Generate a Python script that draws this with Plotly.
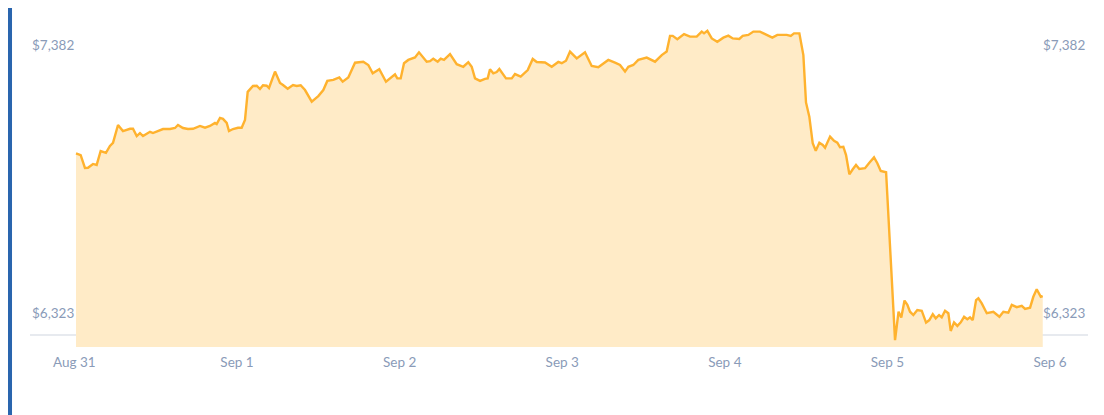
import pandas as pd
import plotly.graph_objects as go

# hours after 2018-08-31 00:00
hours = [0.24, 0.93, 1.56, 2.01, 2.75, 3.29, 3.88, 4.66, 5.25, 5.70, 6.44, 7.17, 8.21, 8.65, 9.20, 9.68,
         10.13, 10.67, 11.16, 11.60, 12.63, 13.08, 14.11, 14.85, 15.29, 16.03, 16.77, 17.51, 18.54, 19.28,
         20.01, 20.75, 21.00, 21.49, 21.93, 22.48, 22.82, 23.41, 24.15, 24.69, 25.18, 25.58, 26.36, 26.91,
         27.39, 27.84, 28.38, 28.72, 29.61, 30.35, 30.79, 31.48, 32.27, 32.81, 33.40, 34.04,
         35.03, 36.00, 36.74, 37.33, 38.21, 39.10, 39.60, 40.43, 41.42, 42.64, 43.38, 44.03, 45.00, 45.99,
         47.32, 47.66, 48.16, 48.65, 49.28, 50.27, 50.86, 51.41, 52.00, 52.49, 52.97, 53.62, 54.07, 54.55,
         55.44, 56.43, 57.40, 58.14, 58.64, 59.13, 59.87, 60.60, 61.00, 61.34, 61.83, 62.33, 62.72, 63.70,
         64.55, 65.03, 65.87, 66.91, 67.65, 68.24, 69.46, 70.45, 71.42,
         71.93, 72.56, 73.15, 74.14, 75.36, 76.35, 77.33, 78.80, 79.79, 80.53, 81.27, 81.76, 82.49, 83.23,
         84.47, 85.70, 86.69, 87.42, 87.91, 88.31, 88.99, 89.98, 90.86, 91.85, 92.59, 92.93, 93.42, 94.07,
         94.89, 95.78, 96.52, 97.17, 98.14, 98.64, 99.47, 100.21, 101.19, 102.18, 103.01, 103.75, 105.14,
         105.73, 106.21, 107.00, 107.59, 107.98, 108.47, 108.97, 109.42, 109.95, 110.45, 110.79, 111.53,
         112.12, 112.60, 113.00, 113.49, 113.89, 114.38, 114.88, 115.36, 115.85, 116.69, 117.33, 118.02,
         118.51, 119.01, 119.80, 120.38, 121.12, 121.64, 122.04, 122.52, 122.94, 123.33, 123.82, 124.41,
         125.06, 125.70, 126.18, 126.69, 127.13, 127.62, 128.01, 128.50, 128.99, 129.34, 129.83, 130.32,
         130.82, 131.31, 131.79, 132.19, 132.59, 133.08, 133.42, 133.92, 134.66, 135.63, 136.52, 137.11,
         137.84, 138.35, 139.08, 139.82, 140.31, 141.05, 141.53, 142.03, 142.63, 142.92]

prices = [6954, 6947, 6896, 6897, 6912, 6908, 6963, 6956, 6983, 6995, 7066, 7042, 7051, 7051, 7022, 7034,
          7022, 7030, 7039, 7034, 7043, 7050, 7050, 7054, 7066, 7054, 7050, 7051, 7062, 7055,
          7062, 7074, 7070, 7094, 7090, 7074, 7042, 7050, 7055, 7055, 7086, 7197, 7220, 7221,
          7208, 7223, 7221, 7212, 7277, 7232, 7224, 7209, 7224, 7220, 7223, 7204,
          7158, 7180, 7204, 7240, 7244, 7254, 7237, 7254, 7312, 7316, 7303, 7270, 7286, 7237,
          7266, 7250, 7250, 7310, 7323, 7333, 7353, 7333, 7316, 7318, 7328, 7316, 7328, 7323,
          7346, 7306, 7296, 7314, 7296, 7250, 7240, 7248, 7250, 7286, 7270, 7275, 7287, 7250,
          7250, 7267, 7257, 7283, 7327, 7315, 7313, 7296, 7315,
          7310, 7320, 7356, 7329, 7353, 7299, 7294, 7323, 7312, 7303, 7277, 7296, 7303, 7323,
          7332, 7316, 7342, 7356, 7418, 7418, 7405, 7425, 7415, 7415, 7435, 7428, 7438, 7408,
          7395, 7411, 7419, 7408, 7406, 7418, 7422, 7435, 7435, 7422, 7411, 7422, 7422,
          7418, 7428, 7428, 7342, 7155, 7099, 6994, 6964, 6996, 6987, 6976, 7020,
          7003, 6996, 6978, 6980, 6947, 6871, 6891, 6908, 6892, 6895, 6917, 6938,
          6915, 6884, 6879, 6585, 6216, 6328, 6305, 6372, 6355, 6328, 6315, 6335,
          6332, 6285, 6295, 6318, 6302, 6315, 6306, 6332, 6322, 6252, 6286, 6272,
          6286, 6308, 6298, 6306, 6295, 6374, 6381, 6361, 6322, 6328, 6308, 6328,
          6324, 6355, 6346, 6351, 6339, 6344, 6387, 6417, 6387, 6390]

tick_dates = ["2018-08-31", "2018-09-01", "2018-09-02", "2018-09-03", "2018-09-04", "2018-09-05", "2018-09-06"]
tick_text = ["Aug 31", "Sep 1", "Sep 2", "Sep 3", "Sep 4", "Sep 5", "Sep 6"]
price_ticks = [6323, 7382]
price_tick_text = ["$6,323", "$7,382"]
baseline_price = 6236
y_range = [6188.6, 7480.8]
x_range = ["2018-08-30 17:27", "2018-09-06 05:36"]

times = pd.Timestamp("2018-08-31 00:00") + pd.to_timedelta(hours, unit="h")

LINE = "#FFB22E"
FILL = "#FFEBC7"
LABEL = "#8A9BB8"

fig = go.Figure()
fig.add_trace(go.Scatter(x=times, y=prices, mode="lines",
                         line=dict(color=LINE, width=2.4), fill="tozeroy", fillcolor=FILL,
                         hoverinfo="skip", showlegend=False))

axis_font = dict(family="Lato, Open Sans, sans-serif", size=13.5, color=LABEL)

# price labels on both sides of the plot, placed at their price values
price_labels = []
for v, t in zip(price_ticks, price_tick_text):
    price_labels.append(dict(xref="paper", yref="y", x=0, y=v, text=t, showarrow=False,
                             xanchor="left", yanchor="middle", xshift=0, font=axis_font))
    price_labels.append(dict(xref="paper", yref="y", x=1, y=v, text=t, showarrow=False,
                             xanchor="right", yanchor="middle", xshift=-1, font=axis_font))

fig.update_layout(
    width=1104, height=415,
    margin=dict(l=22, r=24, t=12, b=76),
    paper_bgcolor="white", plot_bgcolor="white",
    xaxis=dict(type="date", range=x_range, tickvals=tick_dates, ticktext=tick_text,
               showgrid=False, zeroline=False, showline=False,
               ticks="outside", ticklen=3, tickcolor="rgba(0,0,0,0)",
               tickfont=axis_font),
    yaxis=dict(range=y_range, tickvals=price_ticks, showticklabels=False,
               showgrid=False, zeroline=False, showline=False, ticks=""),
    annotations=price_labels,
    shapes=[
        dict(type="line", xref="paper", yref="y", x0=0, x1=1, y0=baseline_price, y1=baseline_price,
             line=dict(color="#DFE3EA", width=1.5), layer="below"),
        dict(type="rect", xref="paper", yref="paper", x0=-0.0208, x1=-0.0170, y0=-0.21, y1=1.04,
             fillcolor="#2A65AE", line=dict(width=0), layer="above"),
    ],
)

fig.write_html("out.html")
